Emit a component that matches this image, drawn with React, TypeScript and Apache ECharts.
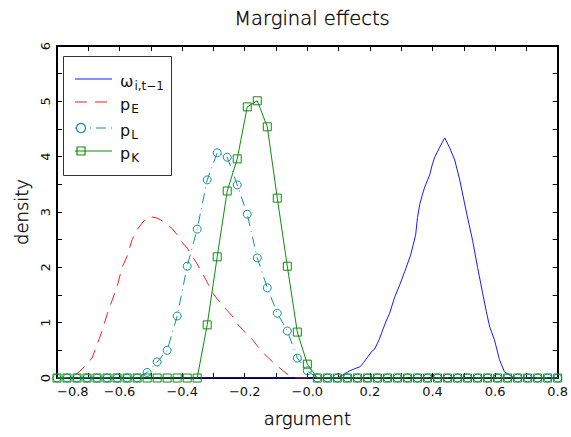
import React, { useEffect, useRef } from "react";
import * as echarts from "echarts";

// ---- data -------------------------------------------------------------

// Sampling grid shared by the two marked densities (step 0.032)
const markGridX: number[] = Array.from({ length: 51 }, (_, k) =>
  Math.round((-0.8 + 0.032 * k) * 1000) / 1000
);

// omega_{i,t-1}
const omegaX = [
  -0.8, 0.09, 0.104, 0.12, 0.136, 0.152, 0.168, 0.18, 0.193, 0.204, 0.215,
  0.23, 0.241, 0.252, 0.263, 0.279, 0.295, 0.311, 0.33, 0.338, 0.346, 0.352,
  0.359, 0.367, 0.375, 0.391, 0.399, 0.407, 0.423, 0.439, 0.455, 0.471, 0.487,
  0.509, 0.528, 0.544, 0.56, 0.572, 0.583, 0.598, 0.614, 0.63, 0.656, 0.67, 0.8,
];
const omegaY = [
  0, 0, 0.02, 0.08, 0.13, 0.17, 0.2, 0.28, 0.38, 0.47, 0.52, 0.7, 0.87, 1.03,
  1.17, 1.46, 1.68, 1.92, 2.22, 2.4, 2.58, 2.9, 3.13, 3.3, 3.45, 3.67, 3.85,
  3.99, 4.17, 4.34, 4.16, 3.94, 3.58, 2.98, 2.49, 2.0, 1.54, 1.2, 0.92, 0.69,
  0.33, 0.11, 0.02, 0, 0,
];

// p_E
const pEX = [
  -0.8, -0.752, -0.736, -0.72, -0.704, -0.688, -0.672, -0.656, -0.64, -0.624,
  -0.608, -0.592, -0.576, -0.56, -0.544, -0.528, -0.512, -0.496, -0.48, -0.464,
  -0.448, -0.432, -0.416, -0.4, -0.384, -0.368, -0.352, -0.336, -0.32, -0.304,
  -0.288, -0.272, -0.256, -0.24, -0.224, -0.208, -0.192, -0.176, -0.16, -0.144,
  -0.128, -0.112, -0.096, -0.08, -0.064, -0.048, -0.032, 0.8,
];
const pEY = [
  0, 0, 0.08, 0.16, 0.26, 0.36, 0.6, 0.85, 1.15, 1.4, 1.65, 2.0, 2.2, 2.5,
  2.68, 2.8, 2.9, 2.91, 2.89, 2.84, 2.77, 2.7, 2.59, 2.45, 2.35, 2.2, 2.06,
  1.9, 1.73, 1.55, 1.43, 1.32, 1.22, 1.12, 0.98, 0.88, 0.78, 0.7, 0.58, 0.48,
  0.38, 0.3, 0.22, 0.14, 0.07, 0.02, 0, 0,
];

// p_L on markGridX
const pLY = [
  0, 0, 0, 0, 0, 0, 0, 0, 0, 0.1, 0.29, 0.5, 1.12, 2.02, 2.69, 3.58, 4.07,
  3.99, 3.49, 2.96, 2.17, 1.63, 1.17, 0.85, 0.36, 0.13, 0, 0, 0, 0, 0, 0, 0,
  0, 0, 0, 0, 0, 0, 0, 0, 0, 0, 0, 0, 0, 0, 0, 0, 0, 0,
];

// p_K on markGridX
const pKY = [
  0, 0, 0, 0, 0, 0, 0, 0, 0, 0, 0, 0, 0, 0, 0, 0.96, 2.19, 3.38, 3.96, 4.9,
  5.01, 4.54, 3.25, 2.02, 0.83, 0.25, 0, 0, 0, 0, 0, 0, 0, 0, 0, 0, 0, 0, 0,
  0, 0, 0, 0, 0, 0, 0, 0, 0, 0, 0, 0,
];

// ---- styling ----------------------------------------------------------

const FONT = '"DejaVu Sans", sans-serif';
const BLUE = "#1a1aff";
const RED = "#ff1a1a";
const TEAL = "#139090";
const GREEN = "#0a8f0a";
const DASH_E = [12, 8];
const DASH_L = [10, 5, 1, 5];

const pairs = (xs: number[], ys: number[]) => xs.map((x, i) => [x, ys[i]]);

const fmtX = (v: number) => {
  if (Math.abs(v) < 1e-9) return "\u22120.0";
  return (v < 0 ? "\u2212" : "") + Math.abs(v).toFixed(1);
};

const tickCommon = {
  axisLine: { show: true, onZero: false, lineStyle: { color: "#000", width: 2 } },
  axisTick: { show: true, inside: true, length: 5, lineStyle: { color: "#000", width: 1 } },
  minorTick: { show: true, splitNumber: 2, length: 5, lineStyle: { color: "#000", width: 1 } },
  splitLine: { show: false },
  minorSplitLine: { show: false },
};

// thin titles, slightly darkened with a hairline outline
const nameStyle = {
  fontFamily: FONT,
  fontSize: 18,
  fontWeight: 200,
  color: "#000",
  textBorderColor: "#000",
  textBorderWidth: 0.35,
};
const tickLabelStyle = { fontFamily: FONT, fontSize: 13, color: "#111" };

// legend rows
const LEG_ROWS = [79, 102, 128, 151];
const LEG_X0 = 75;
const LEG_X1 = 112;
const LEG_TX = 120;
const legRich = {
  m: { fontSize: 16, fontFamily: FONT, fill: "#111" },
  s: { fontSize: 12, fontFamily: FONT, fill: "#111", padding: [8, 0, 0, 1] },
};
const legendLabels = ["{m|\u03c9}{s|i,t\u22121}", "{m|p}{s|E}", "{m|p}{s|L}", "{m|p}{s|K}"];

export default function App() {
  const ref = useRef<HTMLDivElement>(null);

  useEffect(() => {
    if (!ref.current) return;
    const chart = echarts.init(ref.current, undefined, { renderer: "svg" });

    const legendGraphics: any[] = [
      {
        type: "rect",
        shape: { x: 63.5, y: 56.5, width: 108, height: 119 },
        style: { fill: "none", stroke: "#333", lineWidth: 1 },
        silent: true,
      },
      {
        type: "polyline",
        shape: { points: [[LEG_X0, LEG_ROWS[0]], [LEG_X1, LEG_ROWS[0]]] },
        style: { stroke: BLUE, lineWidth: 1.2, fill: null },
      },
      {
        type: "polyline",
        shape: { points: [[LEG_X0, LEG_ROWS[1]], [LEG_X1, LEG_ROWS[1]]] },
        style: { stroke: RED, lineWidth: 1.2, fill: null, lineDash: DASH_E },
      },
      {
        type: "polyline",
        shape: { points: [[LEG_X0, LEG_ROWS[2]], [LEG_X1, LEG_ROWS[2]]] },
        style: { stroke: TEAL, lineWidth: 1.2, fill: null, lineDash: DASH_L },
      },
      {
        type: "circle",
        shape: { cx: 81, cy: LEG_ROWS[2], r: 4.5 },
        style: { fill: "#fff", stroke: TEAL, lineWidth: 1.2 },
      },
      {
        type: "polyline",
        shape: { points: [[LEG_X0, LEG_ROWS[3]], [LEG_X1, LEG_ROWS[3]]] },
        style: { stroke: GREEN, lineWidth: 1.2, fill: null },
      },
      {
        type: "rect",
        shape: { x: 77, y: LEG_ROWS[3] - 4, width: 8, height: 8 },
        style: { fill: "rgba(255,255,255,0)", stroke: GREEN, lineWidth: 1.2 },
      },
      ...legendLabels.map((t, i) => ({
        type: "text",
        x: LEG_TX,
        y: LEG_ROWS[i] + 2.5,
        style: { text: t, rich: legRich, verticalAlign: "middle", align: "left" },
      })),
    ];

    chart.setOption({
      animation: false,
      backgroundColor: "#fff",
      title: {
        text: "Marginal effects",
        left: 307,
        top: 3,
        textAlign: "center",
        textStyle: { ...nameStyle, fontSize: 19.5 },
      },
      grid: { left: 57, right: 13, top: 46, bottom: 59 },
      xAxis: [
        {
          type: "value",
          position: "bottom",
          min: -0.8,
          max: 0.8,
          interval: 0.2,
          ...tickCommon,
          axisLabel: {
            show: true,
            margin: 7,
            formatter: fmtX,
            alignMinLabel: "left",
            ...tickLabelStyle,
          },
          name: "argument",
          nameLocation: "middle",
          nameGap: 31,
          nameTextStyle: nameStyle,
        },
        {
          type: "value",
          position: "top",
          min: -0.8,
          max: 0.8,
          interval: 0.2,
          ...tickCommon,
          axisLabel: { show: false },
        },
      ],
      yAxis: [
        {
          type: "value",
          position: "left",
          min: 0,
          max: 6,
          interval: 1,
          ...tickCommon,
          axisLabel: {
            show: true,
            rotate: 90,
            margin: 5,
            ...tickLabelStyle,
          },
          name: "density",
          nameLocation: "middle",
          nameGap: 22,
          nameTextStyle: nameStyle,
        },
        {
          type: "value",
          position: "right",
          min: 0,
          max: 6,
          interval: 1,
          ...tickCommon,
          axisLabel: { show: false },
        },
      ],
      series: [
        {
          name: "omega",
          type: "line",
          data: pairs(omegaX, omegaY),
          symbol: "none",
          lineStyle: { color: BLUE, width: 1 },
          silent: true,
        },
        {
          name: "pE",
          type: "line",
          data: pairs(pEX, pEY),
          symbol: "none",
          lineStyle: { color: RED, width: 1, type: DASH_E },
          silent: true,
        },
        {
          name: "pL",
          type: "line",
          data: pairs(markGridX, pLY),
          symbol: "circle",
          symbolSize: 8,
          showAllSymbol: true,
          itemStyle: { color: "rgba(0,0,0,0)", borderColor: TEAL, borderWidth: 1 },
          lineStyle: { color: TEAL, width: 1, type: DASH_L },
          silent: true,
        },
        {
          name: "pK",
          type: "line",
          data: pairs(markGridX, pKY),
          symbol: "rect",
          symbolSize: 8,
          showAllSymbol: true,
          itemStyle: { color: "rgba(0,0,0,0)", borderColor: GREEN, borderWidth: 1 },
          lineStyle: { color: GREEN, width: 1 },
          silent: true,
        },
      ],
      graphic: legendGraphics,
    });

    return () => chart.dispose();
  }, []);

  return (
    <div
      ref={ref}
      style={{ position: "fixed", left: 0, top: 0, width: 571, height: 437 }}
    />
  );
}
